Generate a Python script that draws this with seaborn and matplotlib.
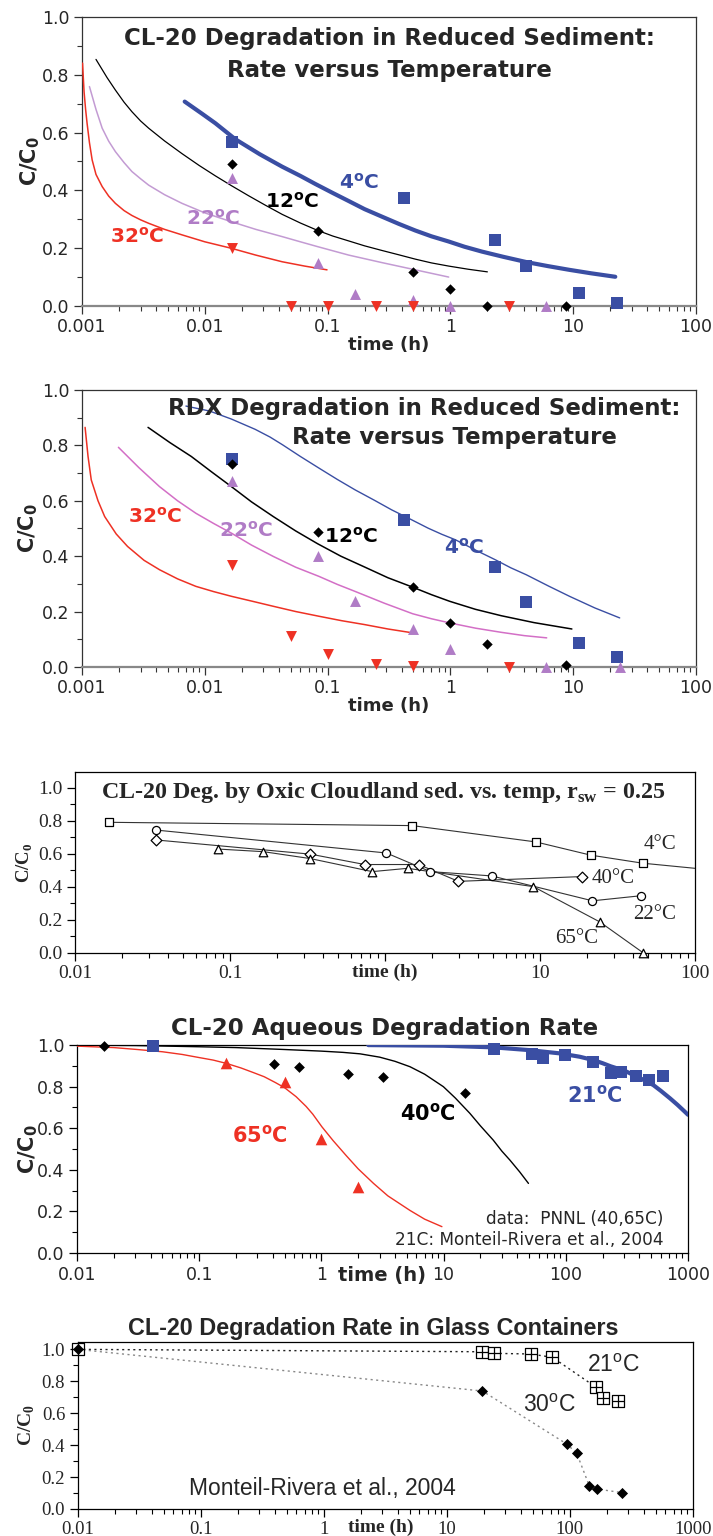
import numpy as np
import pandas as pd
import matplotlib
matplotlib.use("Agg")
import matplotlib.pyplot as plt
import seaborn as sns
from matplotlib.ticker import MultipleLocator, NullFormatter, LogLocator

sns.set_style("ticks")
plt.rcParams["font.family"] = ["DejaVu Sans"]

# ---------------- colours
BLUE = "#3a4ea3"
RED = "#ee3124"
PURPLE = "#b07cc6"
PURPLE_LINE = "#c39bd3"
PINK_LINE = "#d36fc6"

# ---------------- Panel 1: CL-20 reduced sediment
p1_t4 = [0.0167, 0.417, 2.32, 4.14, 11.2, 22.9]
p1_c4 = [0.566, 0.372, 0.228, 0.138, 0.046, 0.009]
p1_t12 = [0.0167, 0.0833, 0.5, 1.0, 2.0, 8.7]
p1_c12 = [0.49, 0.261, 0.117, 0.058, 0.0, 0.0]
p1_t22 = [0.0167, 0.0833, 0.167, 0.5, 1.0, 6.0]
p1_c22 = [0.442, 0.148, 0.042, 0.021, 0.0, 0.0]
p1_t32 = [0.0167, 0.05, 0.1, 0.25, 0.5, 3.0]
p1_c32 = [0.20, 0.0, 0.0, 0.0, 0.0, 0.0]
# fitted curves
p1_fit4_t = [0.00686, 0.0095, 0.0122, 0.0177, 0.028, 0.0426, 0.06, 0.0795, 0.11, 0.1485, 0.2, 0.277,
             0.38, 0.518, 0.7, 0.968, 1.3, 1.81, 2.7, 4.14, 6.2, 9.3, 14.0, 22.0]
p1_fit4_c = [0.707, 0.665, 0.632, 0.577, 0.525, 0.482, 0.450, 0.422, 0.391, 0.363, 0.335, 0.309,
             0.284, 0.261, 0.241, 0.223, 0.205, 0.188, 0.170, 0.152, 0.138, 0.125, 0.113, 0.101]
p1_fit12_t = [0.0013, 0.0016, 0.00187, 0.0022, 0.00255, 0.003, 0.00349, 0.0047, 0.00652, 0.009, 0.0122,
              0.0165, 0.0228, 0.031, 0.0426, 0.06, 0.0833, 0.11, 0.1485, 0.2, 0.277, 0.38, 0.518, 0.7,
              0.968, 1.4, 2.0]
p1_fit12_c = [0.853, 0.79, 0.747, 0.705, 0.672, 0.64, 0.615, 0.571, 0.527, 0.486, 0.45,
              0.416, 0.381, 0.349, 0.317, 0.287, 0.261, 0.242, 0.225, 0.208, 0.192, 0.177, 0.162, 0.149,
              0.138, 0.127, 0.118]
p1_fit22_t = [0.00115, 0.0013, 0.00146, 0.00165, 0.00187, 0.0022, 0.00255, 0.003, 0.00349, 0.0047,
              0.00652, 0.01, 0.0163, 0.026, 0.0426, 0.06, 0.0833, 0.1485, 0.277, 0.518, 0.968]
p1_fit22_c = [0.759, 0.68, 0.615, 0.57, 0.534, 0.496, 0.465, 0.44, 0.418, 0.385,
              0.355, 0.322, 0.292, 0.265, 0.240, 0.222, 0.205, 0.176, 0.150, 0.125, 0.100]
p1_fit32_t = [0.00101, 0.00104, 0.00107, 0.0011, 0.00115, 0.00121, 0.0013, 0.00146, 0.00165, 0.00187,
              0.0022, 0.00255, 0.003, 0.00349, 0.0047, 0.00652, 0.01, 0.0163, 0.026, 0.0426, 0.065, 0.0989]
p1_fit32_c = [0.84, 0.74, 0.68, 0.632, 0.565, 0.505, 0.455, 0.413, 0.38, 0.355,
              0.33, 0.313, 0.298, 0.286, 0.265, 0.246, 0.222, 0.200, 0.176, 0.153, 0.138, 0.125]

# ---------------- Panel 2: RDX reduced sediment
p2_t4 = [0.0167, 0.417, 2.32, 4.14, 11.2, 22.9]
p2_c4 = [0.75, 0.531, 0.361, 0.234, 0.087, 0.036]
p2_t12 = [0.0167, 0.0833, 0.5, 1.0, 2.0, 8.7]
p2_c12 = [0.733, 0.486, 0.288, 0.159, 0.084, 0.008]
p2_t22 = [0.0167, 0.0833, 0.167, 0.5, 1.0, 6.0, 24.0]
p2_c22 = [0.67, 0.401, 0.237, 0.137, 0.065, 0.0, 0.0]
p2_t32 = [0.0167, 0.05, 0.1, 0.25, 0.5, 3.0]
p2_c32 = [0.369, 0.11, 0.048, 0.012, 0.005, 0.0]
p2_fit4_t = [0.00702, 0.01094, 0.01648, 0.0257, 0.034, 0.043, 0.06, 0.085, 0.12, 0.168, 0.24, 0.333,
             0.48, 0.659, 0.85, 1.10, 1.6, 2.32, 3.1, 4.14, 6.3, 9.33, 15.0, 23.9]
p2_fit4_c = [0.942, 0.924, 0.895, 0.858, 0.830, 0.802, 0.760, 0.718, 0.677, 0.639, 0.602, 0.567,
             0.532, 0.501, 0.479, 0.459, 0.422, 0.387, 0.358, 0.333, 0.292, 0.255, 0.213, 0.177]
p2_fit12_t = [0.00345, 0.0052, 0.00776, 0.0113, 0.01648, 0.024, 0.0361, 0.055, 0.0828, 0.128, 0.1996,
              0.31, 0.493, 0.70, 0.986, 1.6, 2.59, 4.8, 9.75]
p2_fit12_c = [0.865, 0.81, 0.760, 0.705, 0.651, 0.596, 0.543, 0.491, 0.445, 0.400, 0.361,
              0.322, 0.288, 0.261, 0.237, 0.208, 0.185, 0.160, 0.137]
p2_fit22_t = [0.00198, 0.0029, 0.00428, 0.006, 0.00845, 0.0118, 0.01648, 0.024, 0.0361, 0.055, 0.085,
              0.12, 0.1667, 0.29, 0.493, 0.70, 0.986, 1.6, 2.59, 4.0, 6.08]
p2_fit22_c = [0.793, 0.72, 0.651, 0.60, 0.555, 0.518, 0.483, 0.44, 0.399, 0.36, 0.327,
              0.298, 0.273, 0.230, 0.192, 0.174, 0.159, 0.14, 0.125, 0.113, 0.105]
p2_fit32_t = [0.00106, 0.00112, 0.00119, 0.00135, 0.00153, 0.0019, 0.00235, 0.0032, 0.00428, 0.006,
              0.00845, 0.0118, 0.01648, 0.025, 0.0361, 0.055, 0.085, 0.13, 0.1996, 0.31, 0.493]
p2_fit32_c = [0.865, 0.76, 0.675, 0.60, 0.543, 0.48, 0.435, 0.385, 0.351, 0.318,
              0.291, 0.272, 0.255, 0.236, 0.219, 0.20, 0.183, 0.167, 0.153, 0.137, 0.123]

# ---------------- Panel 3: oxic Cloudland sediment
p3_t4 = [0.0166, 1.50, 9.4, 21.2, 46.0, 100.0]
p3_c4 = [0.792, 0.772, 0.673, 0.593, 0.544, 0.513]
p3_t22 = [0.0333, 1.02, 1.96, 4.87, 21.8, 45.0]
p3_c22 = [0.745, 0.606, 0.493, 0.467, 0.316, 0.347]
p3_t40 = [0.0333, 0.33, 0.74, 1.65, 2.97, 18.7]
p3_c40 = [0.685, 0.599, 0.536, 0.536, 0.434, 0.463]
p3_t65 = [0.0831, 0.164, 0.33, 0.826, 1.40, 9.05, 24.3, 46.4]
p3_c65 = [0.630, 0.614, 0.572, 0.493, 0.513, 0.402, 0.188, 0.0]

# ---------------- Panel 4: aqueous
p4_t40 = [0.0167, 0.41, 0.655, 1.66, 3.2, 14.9]
p4_c40 = [0.996, 0.909, 0.893, 0.861, 0.845, 0.771]
p4_t65 = [0.1667, 0.5, 1.0, 2.0]
p4_c65 = [0.912, 0.821, 0.548, 0.319]
p4_t21 = [0.0417, 25.8, 53.2, 64.7, 98.5, 166, 233, 281, 375, 482, 620]
p4_c21 = [0.997, 0.979, 0.955, 0.939, 0.952, 0.917, 0.864, 0.869, 0.851, 0.832, 0.851]
p4_fit65_t = [0.01, 0.02, 0.0308, 0.05, 0.0726, 0.1, 0.13, 0.167, 0.22, 0.28, 0.34, 0.42, 0.5, 0.621,
              0.75, 0.85, 1.01, 1.25, 1.60, 2.0, 2.67, 3.5, 5.31, 7.0, 9.69]
p4_fit65_c = [0.995, 0.988, 0.979, 0.968, 0.955, 0.94, 0.928, 0.912, 0.89, 0.867, 0.848, 0.82, 0.795,
              0.752, 0.705, 0.668, 0.607, 0.54, 0.468, 0.405, 0.335, 0.275, 0.205, 0.163, 0.127]
p4_fit40_t = [0.01, 0.03, 0.1, 0.2, 0.49, 1.0, 1.5, 2.07, 3.0, 4.0, 5.31, 7.0, 9.96, 12.5, 16.4, 20.0,
              25.5, 30.0, 34.9, 42.0, 49.5]
p4_fit40_c = [1.0, 0.998, 0.992, 0.988, 0.979, 0.971, 0.965, 0.958, 0.942, 0.922, 0.896, 0.86, 0.80,
              0.745, 0.672, 0.612, 0.543, 0.49, 0.447, 0.39, 0.335]
p4_fit21_t = [2.42, 10.0, 25.8, 50.0, 89.8, 130, 168, 200, 233, 270, 315, 400, 520, 600, 713, 820, 945, 1000]
p4_fit21_c = [1.0, 0.997, 0.989, 0.976, 0.96, 0.944, 0.928, 0.913, 0.898, 0.886, 0.872, 0.843, 0.808,
              0.78, 0.744, 0.713, 0.679, 0.665]

# ---------------- Panel 5: glass containers
p5_t21 = [0.01, 19.3, 24.3, 48.2, 72.3, 164, 188, 245]
p5_c21 = [1.0, 0.985, 0.975, 0.971, 0.95, 0.762, 0.693, 0.678]
p5_t30 = [0.01, 19.5, 94.6, 114, 144, 166, 268]
p5_c30 = [1.0, 0.739, 0.407, 0.349, 0.146, 0.125, 0.102]

# ---------------- tick labels
xt_p12 = [0.001, 0.01, 0.1, 1, 10, 100]
xl_p12 = ["0.001", "0.01", "0.1", "1", "10", "100"]
xt_p3 = [0.01, 0.1, 1, 10, 100]
xl_p3 = ["0.01", "0.1", "", "10", "100"]
xt_p45 = [0.01, 0.1, 1, 10, 100, 1000]
xl_p45 = ["0.01", "0.1", "1", "10", "100", "1000"]
yt = [0.0, 0.2, 0.4, 0.6, 0.8, 1.0]
yl = ["0.0", "0.2", "0.4", "0.6", "0.8", "1.0"]

SANS = "DejaVu Sans"
SERIF = "Liberation Serif"
ARIAL = "Liberation Sans"

fig = plt.figure(figsize=(7.13, 15.36), dpi=100)
ax1 = fig.add_axes([0.1150, 0.8008, 0.8612, 0.1882])
ax2 = fig.add_axes([0.1150, 0.5658, 0.8612, 0.1803])
ax3 = fig.add_axes([0.1052, 0.3796, 0.8696, 0.1178])
ax4 = fig.add_axes([0.1080, 0.1842, 0.8569, 0.1354])
ax5 = fig.add_axes([0.1090, 0.0176, 0.8626, 0.1090])


def style(ax, xlim, ylim, xt, xl, fam, tsize, spine_col="black", lw=0.9):
    ax.set_xscale("log")
    ax.set_xlim(*xlim)
    ax.set_ylim(*ylim)
    ax.set_xticks(xt, xl, fontfamily=fam, fontsize=tsize)
    ax.set_yticks(yt, yl, fontfamily=fam, fontsize=tsize)
    ax.xaxis.set_minor_locator(LogLocator(base=10, subs=np.arange(2, 10)))
    ax.xaxis.set_minor_formatter(NullFormatter())
    ax.yaxis.set_minor_locator(MultipleLocator(0.1))
    ax.tick_params(which="major", direction="out", length=6, width=0.9, color=spine_col, pad=3)
    ax.tick_params(which="minor", direction="out", length=3.5, width=0.8, color=spine_col)
    for s in ax.spines.values():
        s.set_visible(True)
        s.set_color(spine_col)
        s.set_linewidth(lw)
    ax.set_facecolor("white")


def pts(ax, t, c, marker, color, size, ec=None, lw=0.0, fc=None, z=5):
    df = pd.DataFrame({"t": t, "c": c})
    sns.scatterplot(data=df, x="t", y="c", marker=marker, s=size,
                    color=fc if fc is not None else color,
                    edgecolor=ec if ec is not None else color,
                    linewidth=lw, ax=ax, zorder=z, clip_on=False, legend=False)


def curve(ax, t, c, color, lw, ls="-", z=3):
    df = pd.DataFrame({"t": t, "c": c})
    sns.lineplot(data=df, x="t", y="c", color=color, lw=lw, ls=ls, sort=False,
                 estimator=None, ax=ax, zorder=z, legend=False)


def degc(n):
    return n + r"$^\mathregular{o}$C"


# ================= Panel 1
ax = ax1
style(ax, (0.001, 100), (0, 1.0), xt_p12, xl_p12, SANS, 12.5, spine_col="#333333")
ax.spines["bottom"].set_color("#888888")
ax.spines["bottom"].set_linewidth(1.6)
curve(ax, p1_fit4_t, p1_fit4_c, BLUE, 3.0)
curve(ax, p1_fit12_t, p1_fit12_c, "black", 0.9)
curve(ax, p1_fit22_t, p1_fit22_c, PURPLE_LINE, 1.1)
curve(ax, p1_fit32_t, p1_fit32_c, RED, 1.1)
pts(ax, p1_t4, p1_c4, "s", BLUE, 80)
pts(ax, p1_t12, p1_c12, "D", "black", 28)
pts(ax, p1_t22, p1_c22, "^", PURPLE, 62)
pts(ax, p1_t32, p1_c32, "v", RED, 62)
ax.text(0.5, 0.924, "CL-20 Degradation in Reduced Sediment:", transform=ax.transAxes,
        ha="center", va="center", fontsize=16.5, fontweight="bold")
ax.text(0.5, 0.814, "Rate versus Temperature", transform=ax.transAxes,
        ha="center", va="center", fontsize=16.5, fontweight="bold")
ax.text(0.179, 0.427, degc("4"), color=BLUE, fontsize=14.5, fontweight="bold", ha="center", va="center")
ax.text(0.051, 0.361, degc("12"), color="black", fontsize=14.5, fontweight="bold", ha="center", va="center")
ax.text(0.0117, 0.303, degc("22"), color=PURPLE, fontsize=14.5, fontweight="bold", ha="center", va="center")
ax.text(0.00279, 0.24, degc("32"), color=RED, fontsize=14.5, fontweight="bold", ha="center", va="center")
ax.set_xlabel("time (h)", fontsize=13, fontweight="bold", va="center")
ax.xaxis.set_label_coords(0.5, -0.135)
ax.set_ylabel(r"C/C$_\mathregular{0}$", fontsize=15, fontweight="bold", va="center")
ax.yaxis.set_label_coords(-0.085, 0.5)

# ================= Panel 2
ax = ax2
style(ax, (0.001, 100), (0, 1.0), xt_p12, xl_p12, SANS, 12.5, spine_col="#333333")
ax.spines["bottom"].set_color("#888888")
ax.spines["bottom"].set_linewidth(1.6)
curve(ax, p2_fit4_t, p2_fit4_c, BLUE, 1.0)
curve(ax, p2_fit12_t, p2_fit12_c, "black", 1.1)
curve(ax, p2_fit22_t, p2_fit22_c, PINK_LINE, 1.1)
curve(ax, p2_fit32_t, p2_fit32_c, RED, 1.1)
pts(ax, p2_t4, p2_c4, "s", BLUE, 80)
pts(ax, p2_t12, p2_c12, "D", "black", 28)
pts(ax, p2_t22, p2_c22, "^", PURPLE, 62)
pts(ax, p2_t32, p2_c32, "v", RED, 62)
ax.text(0.557, 0.934, "RDX Degradation in Reduced Sediment:", transform=ax.transAxes,
        ha="center", va="center", fontsize=16.5, fontweight="bold")
ax.text(0.607, 0.828, "Rate versus Temperature", transform=ax.transAxes,
        ha="center", va="center", fontsize=16.5, fontweight="bold")
ax.text(1.29, 0.429, degc("4"), color=BLUE, fontsize=14.5, fontweight="bold", ha="center", va="center")
ax.text(0.1546, 0.471, degc("12"), color="black", fontsize=14.5, fontweight="bold", ha="center", va="center")
ax.text(0.0217, 0.493, degc("22"), color=PURPLE, fontsize=14.5, fontweight="bold", ha="center", va="center")
ax.text(0.00393, 0.543, degc("32"), color=RED, fontsize=14.5, fontweight="bold", ha="center", va="center")
ax.set_xlabel("time (h)", fontsize=13, fontweight="bold", va="center")
ax.xaxis.set_label_coords(0.5, -0.141)
ax.set_ylabel(r"C/C$_\mathregular{0}$", fontsize=15, fontweight="bold", va="center")
ax.yaxis.set_label_coords(-0.088, 0.5)

# ================= Panel 3
ax = ax3
style(ax, (0.01, 100), (0, 1.097), xt_p3, xl_p3, SERIF, 14)
for t, c, m, s in [(p3_t4, p3_c4, "s", 30), (p3_t22, p3_c22, "o", 34),
                   (p3_t40, p3_c40, "D", 30), (p3_t65, p3_c65, "^", 38)]:
    curve(ax, t, c, "#333333", 0.8)
    n = len(c) - 1 if t is p3_t4 else len(c)
    pts(ax, t[:n], c[:n], m, "black", s, ec="black", lw=0.9, fc="white")
ax.text(0.497, 0.884, r"CL-20 Deg. by Oxic Cloudland sed. vs. temp, r$_\mathregular{sw}$ = 0.25",
        transform=ax.transAxes, ha="center", va="center", fontsize=17.3,
        fontweight="bold", fontfamily=SERIF)
ax.text(59.4, 0.655, "4°C", fontsize=15, fontfamily=SERIF, ha="center", va="center")
ax.text(29.7, 0.453, "40°C", fontsize=15, fontfamily=SERIF, ha="center", va="center")
ax.text(55.2, 0.236, "22°C", fontsize=15, fontfamily=SERIF, ha="center", va="center")
ax.text(17.1, 0.085, "65°C", fontsize=15, fontfamily=SERIF, ha="center", va="center")
ax.set_xlabel("time (h)", fontsize=14, fontweight="bold", fontfamily=SERIF, va="center")
ax.xaxis.set_label_coords(0.5, -0.11)
ax.set_ylabel(r"C/C$_\mathregular{0}$", fontsize=13.5, fontweight="bold", fontfamily=SERIF, va="center")
ax.yaxis.set_label_coords(-0.081, 0.5)

# ================= Panel 4
ax = ax4
style(ax, (0.01, 1000), (0, 1.0), xt_p45, xl_p45, SANS, 12.5)
curve(ax, p4_fit65_t, p4_fit65_c, RED, 1.0)
curve(ax, p4_fit40_t, p4_fit40_c, "black", 1.0)
curve(ax, p4_fit21_t, p4_fit21_c, BLUE, 3.0)
pts(ax, p4_t40, p4_c40, "D", "black", 30)
pts(ax, p4_t65, p4_c65, "^", RED, 70)
pts(ax, p4_t21, p4_c21, "s", BLUE, 80)
ax.text(0.504, 1.082, "CL-20 Aqueous Degradation Rate", transform=ax.transAxes,
        ha="center", va="center", fontsize=16.5, fontweight="bold")
ax.text(0.313, 0.567, degc("65"), color=RED, fontsize=15, fontweight="bold", ha="center", va="center")
ax.text(7.48, 0.672, degc("40"), color="black", fontsize=15, fontweight="bold", ha="center", va="center")
ax.text(172, 0.76, degc("21"), color=BLUE, fontsize=15, fontweight="bold", ha="center", va="center")
ax.text(0.96, 0.162, "data:  PNNL (40,65C)", transform=ax.transAxes, ha="right", va="center", fontsize=12.2)
ax.text(0.96, 0.0625, "21C: Monteil-Rivera et al., 2004", transform=ax.transAxes, ha="right", va="center", fontsize=12.2)
ax.set_xlabel("time (h)", fontsize=14, fontweight="bold", va="center")
ax.xaxis.set_label_coords(0.5, -0.11)
ax.set_ylabel(r"C/C$_\mathregular{0}$", fontsize=15, fontweight="bold", va="center")
ax.yaxis.set_label_coords(-0.08, 0.5)

# ================= Panel 5
ax = ax5
style(ax, (0.01, 1000), (0, 1.049), xt_p45, xl_p45, SERIF, 13.5)
curve(ax, p5_t21, p5_c21, "#222222", 1.0, ls=(0, (1.5, 2.5)))
curve(ax, p5_t30, p5_c30, "#888888", 1.0, ls=(0, (1.5, 2.5)))
pts(ax, p5_t21, p5_c21, "s", "black", 70, ec="black", lw=0.9, fc="white", z=5)
pts(ax, p5_t21, p5_c21, "+", "black", 70, ec="black", lw=0.9, z=6)
pts(ax, p5_t30, p5_c30, "D", "black", 32, z=7)
ax.text(0.48, 1.08, "CL-20 Degradation Rate in Glass Containers", transform=ax.transAxes,
        ha="center", va="center", fontsize=16.8, fontweight="bold", fontfamily=ARIAL)
ax.text(226, 0.90, degc("21"), fontsize=16.5, fontfamily=ARIAL, ha="center", va="center")
ax.text(68.2, 0.651, degc("30"), fontsize=16.5, fontfamily=ARIAL, ha="center", va="center")
ax.text(0.398, 0.12, "Monteil-Rivera et al., 2004", transform=ax.transAxes,
        ha="center", va="center", fontsize=16.5, fontfamily=ARIAL)
ax.set_xlabel("time (h)", fontsize=14, fontweight="bold", fontfamily=SERIF, va="center")
ax.xaxis.set_label_coords(0.493, -0.107)
ax.set_ylabel(r"C/C$_\mathregular{0}$", fontsize=14, fontweight="bold", fontfamily=SERIF, va="center")
ax.yaxis.set_label_coords(-0.082, 0.5)

fig.savefig("out.png", dpi=100, facecolor="white")
